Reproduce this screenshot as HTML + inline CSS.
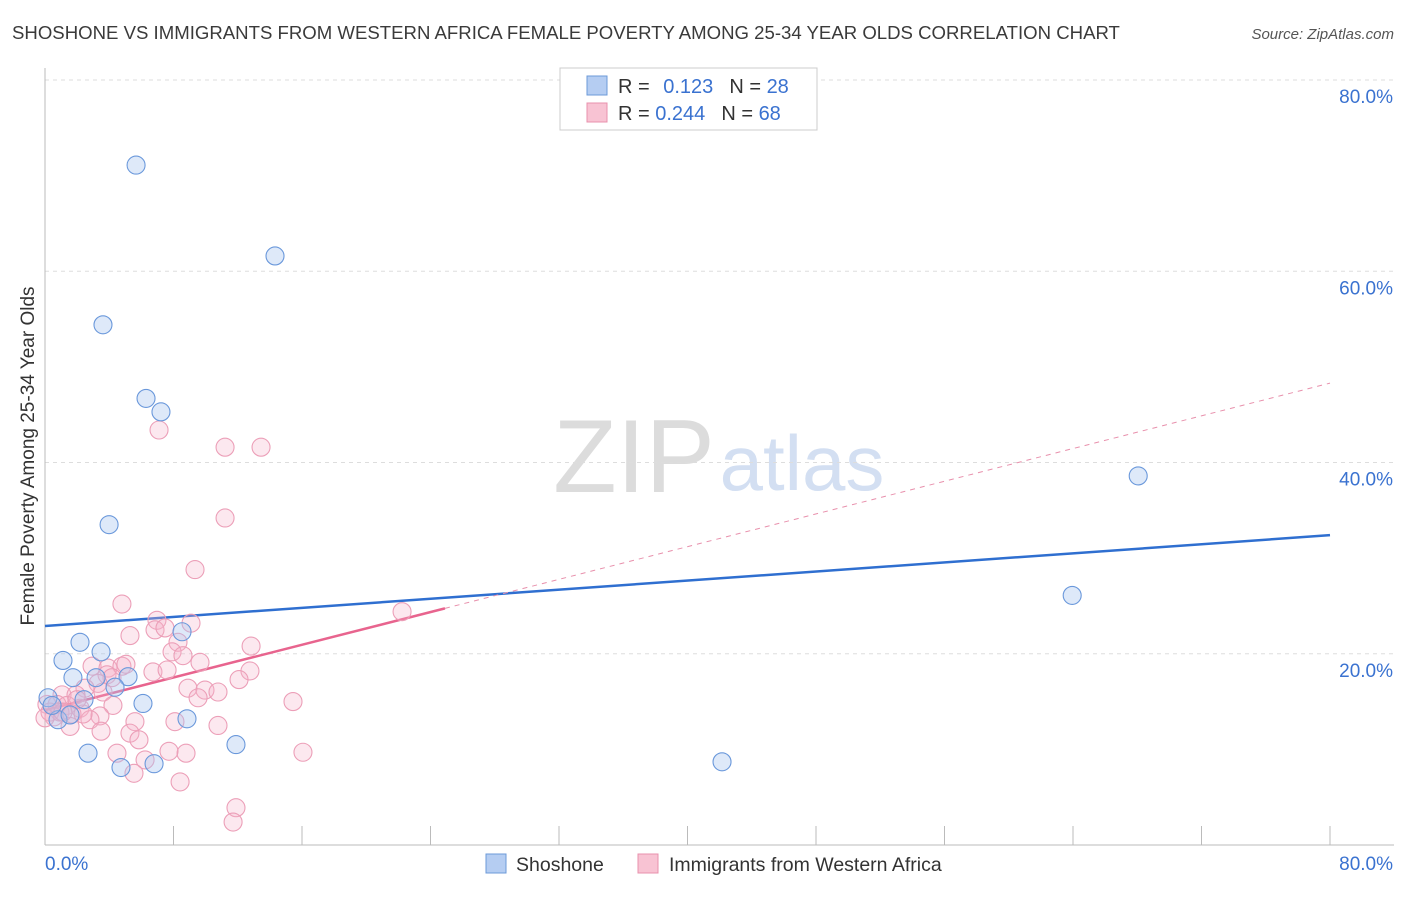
<!DOCTYPE html>
<html><head><meta charset="utf-8"><style>
body{margin:0;background:#fff;font-family:"Liberation Sans",sans-serif;}
svg text{font-family:"Liberation Sans",sans-serif;}
</style></head><body>
<svg id="chart" width="1406" height="892" xmlns="http://www.w3.org/2000/svg">
<text x="12" y="39" font-size="18.6" fill="#3a3a3a">SHOSHONE VS IMMIGRANTS FROM WESTERN AFRICA FEMALE POVERTY AMONG 25-34 YEAR OLDS CORRELATION CHART</text>
<text x="1394" y="39" font-size="15" fill="#555" text-anchor="end" font-style="italic">Source: ZipAtlas.com</text>
<text transform="translate(34,456) rotate(-90)" font-size="19" fill="#333" text-anchor="middle">Female Poverty Among 25-34 Year Olds</text>
<g><text x="634" y="492" font-size="104" fill="#dcdcdc" font-family="Liberation Serif" text-anchor="middle">ZIP</text><text x="802" y="490" font-size="78" fill="#d3dff2" text-anchor="middle">atlas</text></g>
<g id="grid"></g><g id="axes"></g><g id="trend"></g><g id="pts"></g>
<g>
<rect x="560" y="68" width="257" height="62" fill="#fff" stroke="#ccc"/>
<rect x="587" y="76" width="20" height="19" fill="#b5cdf2" stroke="#6c9ad8"/>
<rect x="587" y="103" width="20" height="19" fill="#f8c3d3" stroke="#e890ac"/>
<text x="618" y="93" font-size="20" fill="#333">R = <tspan fill="#3a72d0" dx="8">0.123</tspan><tspan fill="#333" dx="16">N = </tspan><tspan fill="#3a72d0">28</tspan></text>
<text x="618" y="120" font-size="20" fill="#333">R = <tspan fill="#3a72d0">0.244</tspan><tspan fill="#333" dx="16">N = </tspan><tspan fill="#3a72d0">68</tspan></text>
</g>
<g>
<rect x="486" y="854" width="20" height="19" fill="#b5cdf2" stroke="#6c9ad8"/>
<text x="516" y="871" font-size="19.5" fill="#333">Shoshone</text>
<rect x="638" y="854" width="20" height="19" fill="#f8c3d3" stroke="#e890ac"/>
<text x="669" y="871" font-size="19.5" fill="#333">Immigrants from Western Africa</text>
</g>
</svg>
<script>
const yTicks=[20,40,60,80];
const xTickVals=[0,8,16,24,32,40,48,56,64,72,80];
const blueX=[5.67,14.32,3.61,6.29,7.22,3.99,68.06,63.95,42.15,8.53,2.18,1.12,3.49,1.74,3.18,5.17,4.36,2.43,6.10,0.19,0.81,1.56,8.84,11.89,2.68,4.73,6.79,0.44];
const blueY=[71.1,61.6,54.4,46.7,45.3,33.5,38.6,26.1,8.7,22.3,21.2,19.3,20.2,17.5,17.5,17.6,16.5,15.2,14.8,15.4,13.1,13.6,13.2,10.5,9.6,8.1,8.5,14.6];
const pinkX=[7.10,11.21,13.45,11.21,9.34,4.79,22.23,6.97,5.29,6.85,7.47,9.09,8.28,12.83,7.91,8.59,9.65,2.93,3.92,4.79,5.04,12.76,6.72,7.60,3.86,4.17,12.08,3.30,8.90,2.49,9.96,10.77,9.53,1.06,1.93,3.61,0.12,0.75,1.37,2.18,4.23,15.44,0.31,0.93,1.68,0.56,3.42,5.60,2.80,8.09,10.77,1.56,3.49,5.29,5.85,4.48,8.78,7.72,16.06,6.23,5.54,8.41,11.89,11.71,1.12,2.37,0.0,1.99];
const pinkY=[43.4,41.6,41.6,34.2,28.8,25.2,24.4,23.5,21.9,22.5,22.7,23.2,21.2,20.8,20.2,19.8,19.1,18.7,18.5,18.7,18.9,18.2,18.1,18.3,17.8,17.5,17.3,16.9,16.4,16.4,16.2,16.0,15.4,15.7,15.7,16.0,14.7,14.7,14.6,14.3,14.6,15.0,13.9,13.9,13.7,13.4,13.5,12.9,13.1,12.9,12.5,12.4,11.9,11.7,11.0,9.6,9.6,9.8,9.7,8.9,7.5,6.6,3.9,2.4,13.9,13.7,13.3,15.2];
const blueTrend=[22.9,32.4];
const pinkTrend=[14.1,48.3];
const pinkSolidEnd=24.9;
const X0=45,X1=1330,Y0=845,Y1=80;
const sx=v=>X0+(X1-X0)*v/80, sy=v=>Y0-(Y0-Y1)*v/80;
const NS="http://www.w3.org/2000/svg";
function mk(tag,parent,attrs){const e=document.createElementNS(NS,tag);for(const k in attrs)e.setAttribute(k,attrs[k]);document.getElementById(parent).appendChild(e);return e;}
yTicks.forEach(t=>{
 const l=mk('line','grid',{x1:X0,x2:1394,y1:sy(t),y2:sy(t),stroke:'#ddd','stroke-dasharray':'4,4'});
 
 
 const tx=mk('text','grid',{x:1393,y:sy(t)+23,'font-size':19,fill:'#3a72d0','text-anchor':'end'});
 tx.textContent=t.toFixed(1)+'%';
 
 
});
const ax=mk('line','axes',{x1:X0,x2:X0,y1:68,y2:Y0,stroke:'#bbb'});


const bx=mk('line','axes',{x1:X0,x2:1394,y1:Y0,y2:Y0,stroke:'#bbb'});


xTickVals.forEach(t=>{
 const l=mk('line','axes',{x1:sx(t),x2:sx(t),y1:826,y2:Y0,stroke:'#bbb'});
 
 
});
const xl0=mk('text','axes',{x:45,y:870,'font-size':19,fill:'#3a72d0'});xl0.textContent='0.0%';


const xl1=mk('text','axes',{x:1393,y:870,'font-size':19,fill:'#3a72d0','text-anchor':'end'});xl1.textContent='80.0%';


pinkX.forEach((x,i)=>{
 const c=mk('circle','pts',{cx:sx(x),cy:sy(pinkY[i]),r:9,fill:'rgba(246,178,202,0.3)',stroke:'#ec9fb8','stroke-width':1.1});
 
 
});
blueX.forEach((x,i)=>{
 const c=mk('circle','pts',{cx:sx(x),cy:sy(blueY[i]),r:9,fill:'rgba(168,198,240,0.38)',stroke:'#6a98db','stroke-width':1.1});
 
 
});
const bt=mk('line','trend',{x1:sx(0),y1:sy(blueTrend[0]),x2:sx(80),y2:sy(blueTrend[1]),stroke:'#2f6fd0','stroke-width':2.5});


const pyAt=v=>pinkTrend[0]+(pinkTrend[1]-pinkTrend[0])*v/80;
const pd=mk('line','trend',{x1:sx(pinkSolidEnd),y1:sy(pyAt(pinkSolidEnd)),x2:sx(80),y2:sy(pinkTrend[1]),stroke:'#e890ac','stroke-width':1,'stroke-dasharray':'5,5'});


const ps=mk('line','trend',{x1:sx(0),y1:sy(pinkTrend[0]),x2:sx(pinkSolidEnd),y2:sy(pyAt(pinkSolidEnd)),stroke:'#e8648e','stroke-width':2.5});


</script>
</body></html>
